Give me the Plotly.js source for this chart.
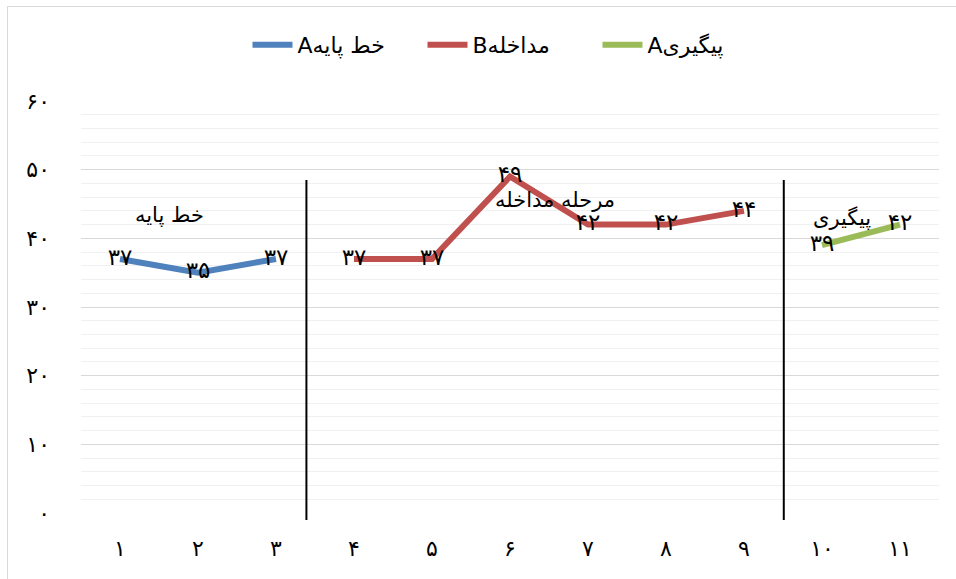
<!DOCTYPE html>
<html>
<head>
<meta charset="utf-8">
<script src="https://cdn.plot.ly/plotly-3.0.1.min.js"></script>
<style>
html,body{margin:0;padding:0;background:#fff;}
#frame{position:absolute;left:7px;top:6px;width:960px;height:590px;border-left:1px solid #d9d9d9;border-top:1px solid #d9d9d9;}
#chart{position:absolute;left:0;top:0;width:956px;height:579px;}
</style>
</head>
<body>
<div id="frame"></div>
<div id="chart"></div>
<script>
// Data
var baselineX = [1, 2, 3];
var baselineY = [37, 35, 37];
var interventionX = [4, 5, 6, 7, 8, 9];
var interventionY = [37, 37, 49, 42, 42, 44];
var followupX = [10, 11];
var followupY = [39, 42];
var seriesNames = ["Aخط پایه", "Bمداخله", "Aپیگیری"];
var phaseLabels = ["خط پایه", "مرحله مداخله", "پیگیری"];
var xTickVals = [1,2,3,4,5,6,7,8,9,10,11];
var yTickVals = [0,10,20,30,40,50,60];

function fa(n){
  var d = "۰۱۲۳۴۵۶۷۸۹";
  return String(n).replace(/[0-9]/g, function(c){return d[+c];});
}

var font = "DejaVu Sans, sans-serif";
function trace(x, y, name, color){
  return {
    x: x, y: y, name: name, type: "scatter", mode: "lines+text",
    line: {color: color, width: 6},
    text: y.map(fa), textposition: "middle center",
    textfont: {family: font, size: 23, color: "#000"},
    cliponaxis: false
  };
}

var data = [
  trace(baselineX, baselineY, seriesNames[0], "#4F81BD"),
  trace(interventionX, interventionY, seriesNames[1], "#C0504D"),
  trace(followupX, followupY, seriesNames[2], "#9BBB59")
];

var layout = {
  width: 956, height: 579,
  paper_bgcolor: "rgba(0,0,0,0)", plot_bgcolor: "rgba(0,0,0,0)",
  margin: {l: 81, r: 17, t: 101, b: 66},
  font: {family: font, size: 20, color: "#000"},
  showlegend: true,
  legend: {orientation: "h", x: 0.5, xanchor: "center", y: 1.136, yanchor: "middle",
           font: {family: font, size: 22, color: "#000"}, traceorder: "normal",
           itemwidth: 40, tracegroupgap: 0, entrywidth: 120, entrywidthmode: "pixels"},
  xaxis: {
    range: [0.5, 11.5], tickvals: xTickVals, ticktext: xTickVals.map(fa),
    showgrid: false, zeroline: false, showline: false, ticks: "",
    ticklabelstandoff: 20, tickfont: {family: font, size: 22, color: "#000"}
  },
  yaxis: {
    range: [0, 60], tickvals: yTickVals, ticktext: yTickVals.map(fa),
    showgrid: true, gridcolor: "#d9d9d9", gridwidth: 1,
    minor: {dtick: 2, showgrid: true, gridcolor: "#f0f0f0", gridwidth: 1},
    zeroline: false, showline: false, ticks: "",
    ticklabelstandoff: 30, tickfont: {family: font, size: 22, color: "#000"}
  },
  shapes: [
    {type: "line", xref: "x", yref: "paper", x0: 3.39, x1: 3.39, y0: -0.017, y1: 0.808,
     line: {color: "#000", width: 2}},
    {type: "line", xref: "x", yref: "paper", x0: 9.51, x1: 9.51, y0: -0.017, y1: 0.808,
     line: {color: "#000", width: 2}}
  ],
  annotations: [
    {x: 1.64, y: 43.4, xref: "x", yref: "y", text: phaseLabels[0], showarrow: false,
     font: {family: font, size: 21, color: "#000"}},
    {x: 6.58, y: 45.6, xref: "x", yref: "y", text: phaseLabels[1], showarrow: false,
     font: {family: font, size: 21, color: "#000"}},
    {x: 10.25, y: 43.0, xref: "x", yref: "y", text: phaseLabels[2], showarrow: false,
     font: {family: font, size: 21, color: "#000"}}
  ]
};

Plotly.newPlot("chart", data, layout, {displayModeBar: false, staticPlot: true});
</script>
</body>
</html>
